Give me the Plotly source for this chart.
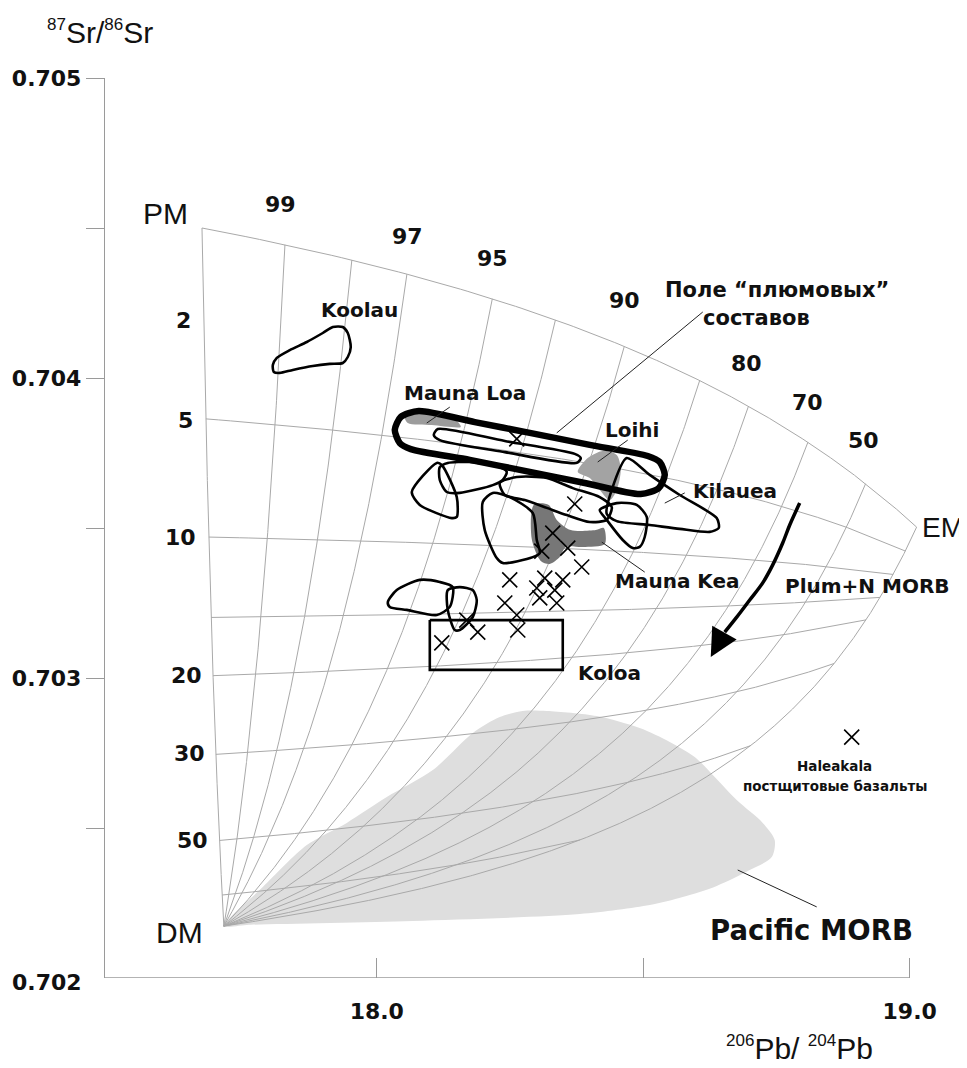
import numpy as np
import plotly.graph_objects as go

# ---------------- axis ticks ----------------
x_tick_vals = [18.0, 18.5, 19.0]
x_tick_text = ["18.0", "", "19.0"]
y_tick_vals = [0.7025, 0.703, 0.7035, 0.704, 0.7045, 0.705]
y_tick_text = ["", "0.703", "", "0.704", "", "0.705"]

# ---------------- mixing model (end members) ----------------
em_names = ["PM", "DM", "EM"]
em_pb = [17.672, 17.713, 19.013]          # 206Pb/204Pb
em_sr = [0.7045, 0.702173, 0.703503]      # 87Sr/86Sr
conc_pb = [1.0, 4.1, 13.0]                # relative Pb concentration
conc_sr = [1.0, 7.15, 5.9]                # relative Sr concentration
pm_share = [1.0, 0.99, 0.98, 0.97, 0.95, 0.93, 0.90, 0.85, 0.80, 0.70, 0.50, 0.0]
dm_share = [0.0, 0.05, 0.10, 0.15, 0.20, 0.30, 0.50, 0.75]
top_labels = ["99", "97", "95", "90", "80", "70", "50"]
top_label_x = [17.8199, 18.0582, 18.2176, 18.4653, 18.6942, 18.8086, 18.9137]
top_label_y = [0.704580, 0.704473, 0.704397, 0.704260, 0.704050, 0.703920, 0.703793]
left_labels = ["2", "5", "10", "20", "30", "50"]
left_label_x = [17.6379, 17.6417, 17.6323, 17.6435, 17.6492, 17.6548]
left_label_y = [0.704193, 0.703857, 0.703470, 0.703010, 0.702750, 0.702460]

# ---------------- fields ----------------
morb_x = [17.7130, 17.7861, 17.8687, 17.9437, 18.0188, 18.1051, 18.1801, 18.2308, 18.2739, 18.3190,
          18.4128, 18.4934, 18.5497, 18.5966, 18.6342, 18.6754, 18.7242, 18.7467, 18.7411, 18.6998,
          18.6379, 18.5741, 18.5122, 18.3809, 18.0676, 17.7561, 17.7130]
morb_y = [0.702173, 0.702303, 0.702443, 0.702517, 0.702603, 0.702693, 0.702817, 0.702870, 0.702890, 0.702890,
          0.702873, 0.702833, 0.702787, 0.702737, 0.702670, 0.702593, 0.702517, 0.702460, 0.702403, 0.702360,
          0.702307, 0.702270, 0.702243, 0.702213, 0.702190, 0.702177, 0.702173]

koolau_x = [17.8049, 17.8124, 17.8368, 17.8687, 17.8987, 17.9175, 17.9362, 17.9456, 17.9512, 17.9456,
            17.9362, 17.9118, 17.8799, 17.8424, 17.8180, 17.8068, 17.8049]
koolau_y = [0.704043, 0.704067, 0.704093, 0.704120, 0.704150, 0.704170, 0.704170, 0.704150, 0.704103, 0.704070,
            0.704050, 0.704047, 0.704040, 0.704027, 0.704017, 0.704020, 0.704043]

plume_x = [18.0788, 18.1839, 18.2871, 18.3996, 18.5085, 18.5310, 18.5404, 18.5291, 18.4953, 18.3903,
           18.2871, 18.1745, 18.0638, 18.0432, 18.0338, 18.0450, 18.0788]
plume_y = [0.703890, 0.703853, 0.703817, 0.703777, 0.703740, 0.703720, 0.703677, 0.703633, 0.703613, 0.703650,
           0.703687, 0.703727, 0.703763, 0.703783, 0.703827, 0.703870, 0.703890]

inner_x = [18.1145, 18.2402, 18.3715, 18.3828, 18.3753, 18.2402, 18.1182, 18.1070, 18.1145]
inner_y = [0.703830, 0.703790, 0.703747, 0.703733, 0.703717, 0.703753, 0.703793, 0.703810, 0.703830]

maunaloa_x = [18.0525, 18.0657, 18.1032, 18.1501, 18.1576, 18.1032, 18.0582, 18.0525]
maunaloa_y = [0.703870, 0.703883, 0.703877, 0.703857, 0.703837, 0.703843, 0.703850, 0.703870]

loihi_x = [18.3771, 18.3959, 18.4240, 18.4503, 18.4578, 18.4503, 18.4372, 18.4184, 18.3996, 18.3771]
loihi_y = [0.703687, 0.703733, 0.703757, 0.703743, 0.703693, 0.703627, 0.703593, 0.703627, 0.703667, 0.703687]

maunakea_x = [18.2946, 18.3227, 18.3377, 18.3640, 18.4109, 18.4259, 18.4278, 18.3865, 18.3546, 18.3433,
              18.3246, 18.3077, 18.2908, 18.2946]
maunakea_y = [0.703577, 0.703577, 0.703527, 0.703493, 0.703493, 0.703500, 0.703447, 0.703437, 0.703437, 0.703403,
              0.703380, 0.703390, 0.703463, 0.703577]

fieldA_x = [18.0657, 18.1126, 18.1220, 18.1501, 18.1501, 18.1407, 18.0807, 18.0657]
fieldA_y = [0.703620, 0.703717, 0.703710, 0.703603, 0.703537, 0.703533, 0.703577, 0.703620]

fieldB_x = [18.1182, 18.1332, 18.1745, 18.2308, 18.2439, 18.2364, 18.2176, 18.1557, 18.1313, 18.1182, 18.1182]
fieldB_y = [0.703703, 0.703717, 0.703720, 0.703703, 0.703687, 0.703660, 0.703643, 0.703617, 0.703620, 0.703660, 0.703703]

fieldC_x = [18.2308, 18.2627, 18.3190, 18.3677, 18.4184, 18.4409, 18.4315, 18.3996, 18.3565, 18.3190, 18.2777, 18.2402, 18.2308]
fieldC_y = [0.703650, 0.703670, 0.703667, 0.703633, 0.703603, 0.703570, 0.703527, 0.703520, 0.703543, 0.703567, 0.703593, 0.703610, 0.703650]

fieldD_x = [18.1989, 18.2176, 18.2495, 18.2927, 18.3002, 18.3058, 18.2927, 18.2364, 18.2251, 18.2026, 18.1989]
fieldD_y = [0.703587, 0.703617, 0.703603, 0.703550, 0.703460, 0.703417, 0.703403, 0.703383, 0.703400, 0.703493, 0.703587]

kilauea_x = [18.4691, 18.5122, 18.5685, 18.6379, 18.6417, 18.6248, 18.5685, 18.5122, 18.4503, 18.4315, 18.4409, 18.4691]
kilauea_y = [0.703733, 0.703677, 0.703610, 0.703533, 0.703500, 0.703487, 0.703497, 0.703510, 0.703523, 0.703547, 0.703627, 0.703733]

loop_x = [18.4184, 18.4503, 18.4878, 18.5066, 18.5028, 18.4934, 18.4803, 18.4616, 18.4315, 18.4184]
loop_y = [0.703560, 0.703583, 0.703577, 0.703537, 0.703470, 0.703437, 0.703433, 0.703460, 0.703527, 0.703560]

fieldE_x = [18.0207, 18.0375, 18.0807, 18.1182, 18.1426, 18.1370, 18.1126, 18.0563, 18.0244, 18.0207]
fieldE_y = [0.703253, 0.703293, 0.703327, 0.703320, 0.703303, 0.703237, 0.703210, 0.703227, 0.703237, 0.703253]

fieldF_x = [18.1332, 18.1557, 18.1801, 18.1876, 18.1801, 18.1557, 18.1463, 18.1332, 18.1332]
fieldF_y = [0.703293, 0.703303, 0.703293, 0.703260, 0.703203, 0.703160, 0.703160, 0.703227, 0.703293]

koloa_x = [18.0995, 18.3490, 18.3490, 18.0995, 18.0995]
koloa_y = [0.703193, 0.703193, 0.703027, 0.703027, 0.703193]

# Hawaiian samples (crosses)
samples_x = [18.2627, 18.3715, 18.3302, 18.3096, 18.3584, 18.3846, 18.2495, 18.3152, 18.3490, 18.3002,
             18.3340, 18.3058, 18.3377, 18.2402, 18.2627, 18.1689, 18.1895, 18.2646, 18.1220]
samples_y = [0.703797, 0.703580, 0.703483, 0.703423, 0.703433, 0.703370, 0.703327, 0.703333, 0.703327, 0.703300,
             0.703293, 0.703267, 0.703250, 0.703250, 0.703210, 0.703193, 0.703153, 0.703160, 0.703117]
haleakala_x = [18.8912]
haleakala_y = [0.702803]

arrow_x = [18.7936, 18.7749, 18.7617, 18.7430, 18.7242, 18.6998, 18.6754, 18.6529]
arrow_y = [0.703583, 0.703510, 0.703450, 0.703377, 0.703317, 0.703260, 0.703203, 0.703153]
arrow_tip = (18.6267, 0.703070)

leaders = {
    "maunaloa": ([18.1370, 18.0938], [0.703903, 0.703850]),
    "loihi": ([18.4709, 18.4146], [0.703793, 0.703720]),
    "kilauea": ([18.5779, 18.5404], [0.703617, 0.703583]),
    "maunakea": ([18.5028, 18.4222], [0.703353, 0.703453]),
    "morb": ([18.6773, 18.8255], [0.702360, 0.702237]),
    "plume": ([18.6117, 18.3377], [0.704220, 0.703817]),
}

# ---------------- build figure ----------------
fig = go.Figure()

# Pacific MORB field
fig.add_trace(go.Scatter(x=morb_x, y=morb_y, mode="lines", fill="toself", fillcolor="#dedede",
                         line=dict(width=0, color="#dedede", shape="spline", smoothing=0.8),
                         hoverinfo="skip"))


def mix(w_pm, w_dm, w_em):
    w = [np.asarray(w_pm, float), np.asarray(w_dm, float), np.asarray(w_em, float)]
    num_pb = sum(w[i] * conc_pb[i] * em_pb[i] for i in range(3))
    den_pb = sum(w[i] * conc_pb[i] for i in range(3))
    num_sr = sum(w[i] * conc_sr[i] * em_sr[i] for i in range(3))
    den_sr = sum(w[i] * conc_sr[i] for i in range(3))
    return num_pb / den_pb, num_sr / den_sr


grid_col = "#a9a9a9"
t = np.linspace(0.0, 1.0, 600)
# lines of constant PM/EM proportion (fan from DM)
for p in pm_share:
    gx, gy = mix((1 - t) * p, t, (1 - t) * (1 - p))
    fig.add_trace(go.Scatter(x=gx, y=gy, mode="lines", line=dict(color=grid_col, width=1), hoverinfo="skip"))
# lines of constant DM proportion
for f in dm_share:
    gx, gy = mix((1 - f) * t, np.full_like(t, f), (1 - f) * (1 - t))
    fig.add_trace(go.Scatter(x=gx, y=gy, mode="lines", line=dict(color=grid_col, width=1), hoverinfo="skip"))

# gray fields
for fx, fy, col in [(maunaloa_x, maunaloa_y, "#9c9c9c"), (loihi_x, loihi_y, "#a3a3a3"),
                    (maunakea_x, maunakea_y, "#777777")]:
    fig.add_trace(go.Scatter(x=fx, y=fy, mode="lines", fill="toself", fillcolor=col,
                             line=dict(width=0, color=col, shape="spline", smoothing=0.8), hoverinfo="skip"))

# outlined fields
for fx, fy in [(koolau_x, koolau_y), (inner_x, inner_y), (fieldA_x, fieldA_y), (fieldB_x, fieldB_y),
               (fieldC_x, fieldC_y), (fieldD_x, fieldD_y), (kilauea_x, kilauea_y), (loop_x, loop_y),
               (fieldE_x, fieldE_y), (fieldF_x, fieldF_y)]:
    fig.add_trace(go.Scatter(x=fx, y=fy, mode="lines",
                             line=dict(color="black", width=2.6, shape="spline", smoothing=0.7), hoverinfo="skip"))
fig.add_trace(go.Scatter(x=koloa_x, y=koloa_y, mode="lines", line=dict(color="black", width=2.6), hoverinfo="skip"))
fig.add_trace(go.Scatter(x=plume_x, y=plume_y, mode="lines",
                         line=dict(color="black", width=6.5, shape="spline", smoothing=0.7), hoverinfo="skip"))

# leaders
for lx, ly in leaders.values():
    fig.add_trace(go.Scatter(x=lx, y=ly, mode="lines", line=dict(color="#222", width=1), hoverinfo="skip"))

# arrow
fig.add_trace(go.Scatter(x=arrow_x, y=arrow_y, mode="lines",
                         line=dict(color="black", width=3.5, shape="spline"), hoverinfo="skip"))
fig.add_annotation(x=arrow_tip[0], y=arrow_tip[1], ax=arrow_x[-1], ay=arrow_y[-1], axref="x", ayref="y",
                   xref="x", yref="y", text="", showarrow=True, arrowhead=2, arrowsize=1.6,
                   arrowwidth=3.5, arrowcolor="black")

# samples
fig.add_trace(go.Scatter(x=samples_x + haleakala_x, y=samples_y + haleakala_y, mode="markers",
                         marker=dict(symbol="x-thin", size=15, line=dict(width=1.6, color="black")),
                         hoverinfo="skip"))

# bottom axis line (ends at 19.0)
fig.add_shape(type="line", xref="x", yref="y", x0=17.49, x1=19.0, y0=0.702, y1=0.702,
              line=dict(color="#9a9a9a", width=1.3))

BOLD = "DejaVu Sans"


def label(text, x, y, size=20, bold=True, family=BOLD, color="#111", **kw):
    fig.add_annotation(x=x, y=y, xref="x", yref="y", text=text, showarrow=False,
                       font=dict(family=family, size=size, color=color, weight="bold" if bold else "normal"), **kw)


for txt, lx, ly in zip(top_labels, top_label_x, top_label_y):
    label(txt, lx, ly, size=22)
for txt, lx, ly in zip(left_labels, left_label_x, left_label_y):
    label(txt, lx, ly, size=22)

label("Koolau", 17.9681, 0.704227)
label("Mauna Loa", 18.1651, 0.703950)
label("Loihi", 18.4784, 0.703827)
label("Kilauea", 18.6717, 0.703623)
label("Mauna Kea", 18.5647, 0.703323)
label("Koloa", 18.4372, 0.703017)
label("Plum+N MORB", 18.9212, 0.703307)
label("Pacific MORB", 18.8162, 0.702160, size=27.5)
label("Haleakala", 18.8593, 0.702707, size=13.5)
label("постщитовые базальты", 18.8593, 0.702640, size=13.5)
label("Поле “плюмовых”", 18.7505, 0.704293, size=21)
label("составов", 18.7130, 0.704200, size=21)

SANS = "Liberation Sans"
label("PM", 17.6041, 0.704550, size=30, bold=False, family=SANS)
label("DM", 17.6304, 0.702153, size=30, bold=False, family=SANS)
# EM label sits just right of the EM end member (kept inside the axis range so it is drawn)
label("EM", em_pb[2], em_sr[2], size=28, bold=False, family=SANS, xanchor="left", xshift=3)

# y tick label at the corner
fig.add_annotation(x=0, y=0.702, xref="paper", yref="y", xanchor="right", xshift=-21, yshift=-4,
                   text="0.702", showarrow=False,
                   font=dict(family=BOLD, size=22, color="#111", weight="bold"))

# axis titles
SUP = "<sup><span style='font-size:17px'>{}</span></sup>"
fig.add_annotation(x=-0.0726, y=1.051, xref="paper", yref="paper", xanchor="left", yanchor="middle",
                   text=SUP.format("87") + "Sr/" + SUP.format("86") + "Sr", showarrow=False,
                   font=dict(family=SANS, size=30, color="#111"))
fig.add_annotation(x=0.8414, y=-0.078, xref="paper", yref="paper", xanchor="center", yanchor="middle",
                   text=SUP.format("206") + "Pb/ " + SUP.format("204") + "Pb", showarrow=False,
                   font=dict(family=SANS, size=30, color="#111"))

# the page body adds an 8px margin: figure is 8px smaller, margins 8px less
fig.update_layout(width=959, height=1060, margin=dict(l=97, r=36, t=70, b=90, autoexpand=False),
                  plot_bgcolor="white", paper_bgcolor="white", showlegend=False)
fig.update_xaxes(range=[17.49, 19.04], showgrid=False, zeroline=False, showline=False, automargin=False,
                 tickvals=x_tick_vals, ticktext=x_tick_text, ticks="inside", ticklen=20,
                 tickcolor="#9a9a9a", tickwidth=1.3, ticklabelstandoff=18,
                 tickfont=dict(family=BOLD, size=22, color="#111", weight="bold"))
fig.update_yaxes(range=[0.702, 0.705], showgrid=False, zeroline=False, showline=True, automargin=False,
                 linecolor="#9a9a9a", linewidth=1.3,
                 tickvals=y_tick_vals, ticktext=y_tick_text, ticks="outside", ticklen=18,
                 tickcolor="#9a9a9a", tickwidth=1.3,
                 tickfont=dict(family=BOLD, size=22, color="#111", weight="bold"))

fig.write_html("out.html")
